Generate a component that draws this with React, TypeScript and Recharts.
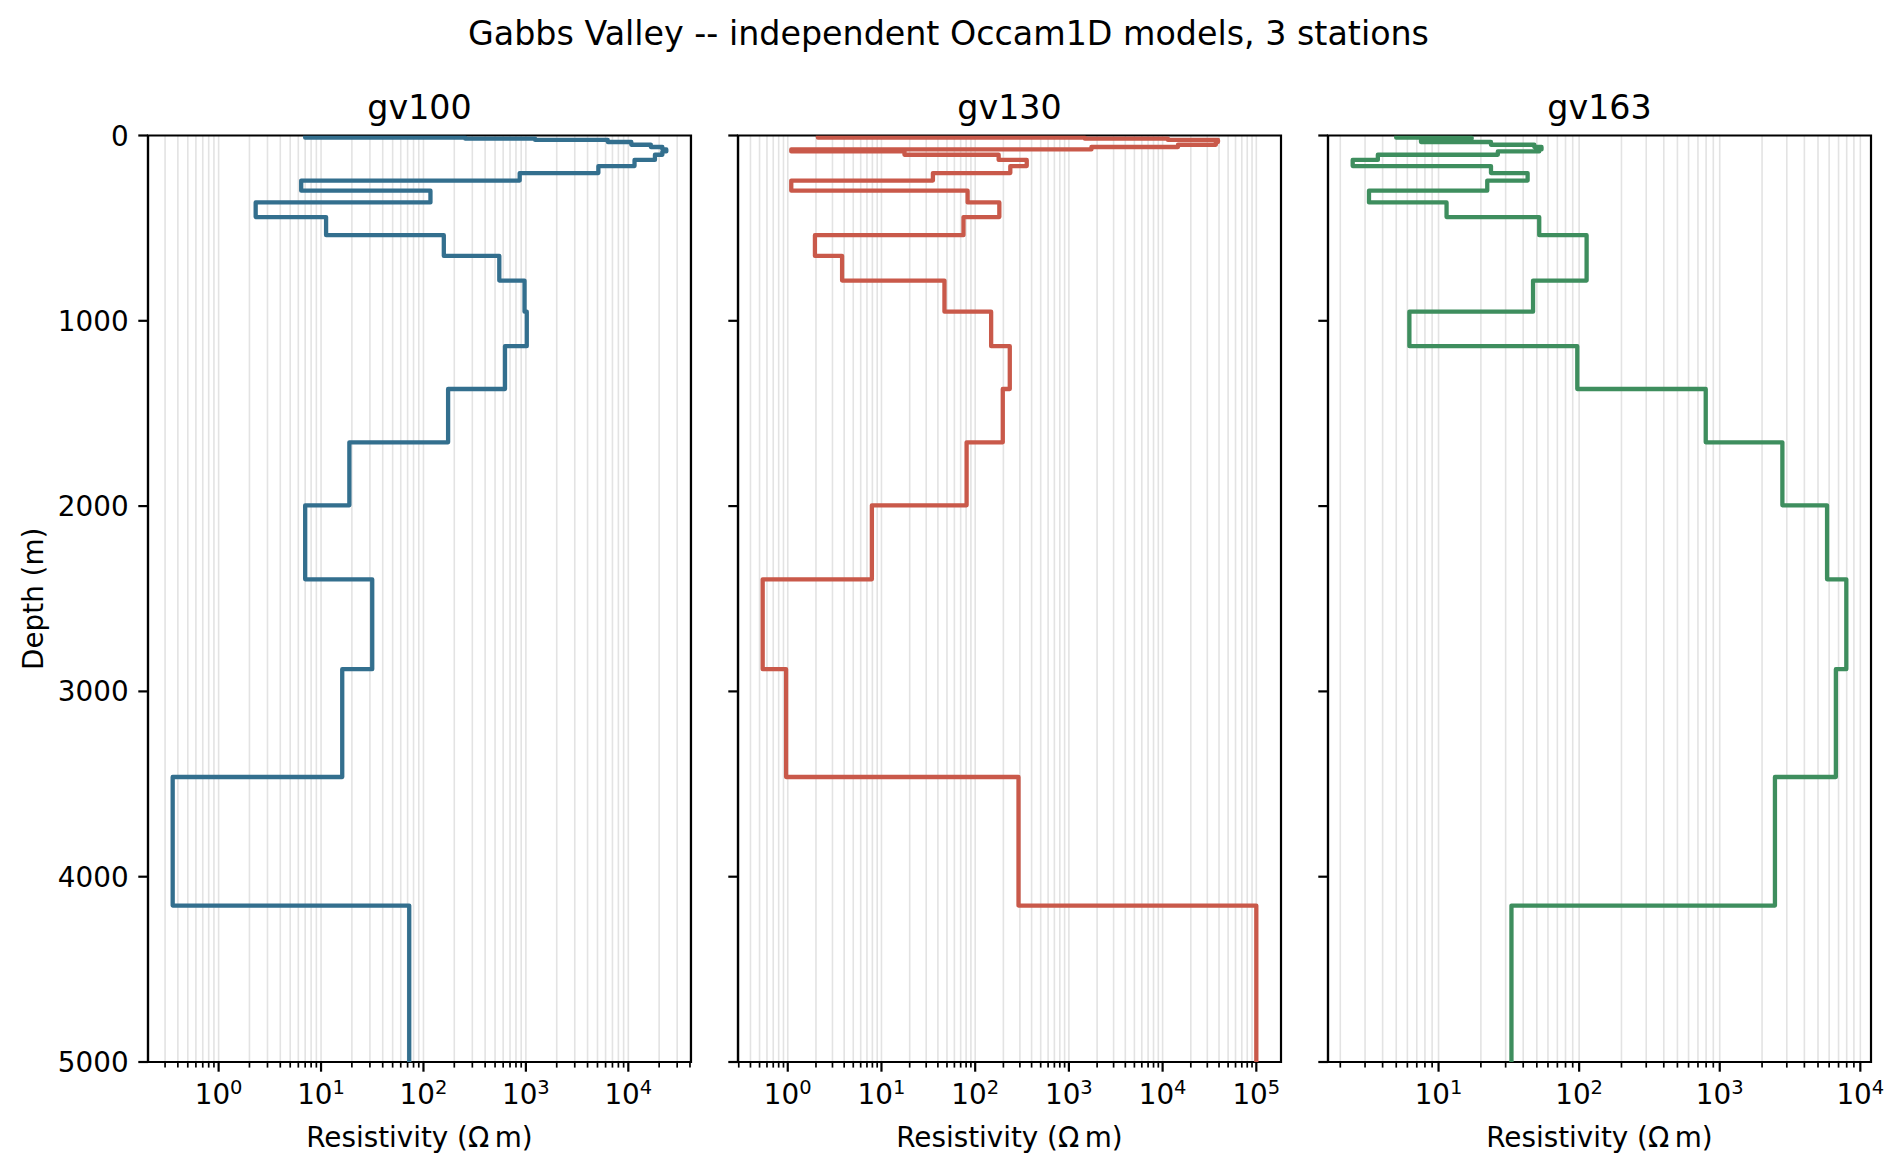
import React from "react";
import {
  CartesianGrid,
  ReferenceArea,
  Scatter,
  ScatterChart,
  XAxis,
  YAxis,
} from "recharts";

// layer boundaries of the shared Occam1D mesh (m); layer i spans [i, i+1]
const boundaries = [
  0, 12, 17, 24, 35, 50, 62, 75, 86, 104, 132, 165, 203, 243, 298, 361, 440,
  538, 650, 783, 951, 1137, 1368, 1656, 1996, 2395, 2880, 3462, 4156, 5000,
];

// resistivity per layer (ohm m)
const rhoGv100 = [
  7.0, 256, 1230, 6300, 10700, 16600, 21500, 23500, 21500, 18200, 11500, 5100,
  870, 6.4, 117, 2.3, 11.2, 158, 550, 970, 1020, 625, 174, 18.9, 7.0, 31.6,
  16.1, 0.356, 72.6,
];
const rhoGv130 = [
  2.1, 1480, 11400, 39000, 37000, 14600, 1740, 1.09, 17.6, 178, 355, 237, 35.4,
  1.09, 83, 181, 75, 1.95, 3.8, 47, 148, 234, 197, 81, 7.9, 0.54, 0.96, 290,
  100000,
];
const rhoGv163 = [
  5.0, 17.2, 7.6, 7.5, 23.6, 48, 54, 52, 26.4, 3.7, 2.45, 23.6, 43, 22.2, 3.2,
  11.4, 52, 113, 113, 47, 6.2, 97, 795, 2790, 5800, 7950, 6700, 2470, 33,
];

const stationNames = ["gv100", "gv130", "gv163"];
const stationColors = ["#336f8e", "#c9594a", "#3e8e5e"];
const stationRho = [rhoGv100, rhoGv130, rhoGv163];
// exponents of the labelled decade ticks in each panel
const decadeExponents = [
  [0, 1, 2, 3, 4],
  [0, 1, 2, 3, 4, 5],
  [1, 2, 3, 4],
];
const depthTicks = [0, 1000, 2000, 3000, 4000, 5000];

const FIG_W = 1897;
const FIG_H = 1174;
const PLOT_TOP = 135.5;
const PLOT_BOTTOM = 1062;
const PANEL_LEFT = [148, 738, 1328];
const PANEL_W = 543;
const RIGHT_PAD = 24;
const X_AXIS_H = 60;
const FONT = "DejaVu Sans";
const TICK_FS = 27.8;
const TITLE_FS = 33.3;

const stepProfile = (rho: number[]) =>
  rho.flatMap((r, i) => [
    { rho: r, depth: boundaries[i] },
    { rho: r, depth: boundaries[i + 1] },
  ]);

// matplotlib-like 5% margin in log space
const logDomain = (rho: number[]): [number, number] => {
  const lo = Math.log10(Math.min(...rho));
  const hi = Math.log10(Math.max(...rho));
  const pad = (hi - lo) * 0.05;
  return [10 ** (lo - pad), 10 ** (hi + pad)];
};

const minorTicks = ([d0, d1]: [number, number]) => {
  const out: number[] = [];
  for (let e = Math.floor(Math.log10(d0)); e <= Math.ceil(Math.log10(d1)); e++) {
    for (let m = 2; m <= 9; m++) {
      const v = m * 10 ** e;
      if (v >= d0 && v <= d1) out.push(v);
    }
  }
  return out;
};

const noDot = () => <g />;

const XTick = (props: any) => {
  const { x, y, payload, labels } = props;
  const exp = labels.get(payload.value);
  const major = exp !== undefined;
  return (
    <g>
      <line
        x1={x}
        x2={x}
        y1={y}
        y2={y + (major ? 9.7 : 5.6)}
        stroke="#000"
        strokeWidth={major ? 2.2 : 1.7}
      />
      {major && (
        <text
          x={x}
          y={y + 42}
          textAnchor="middle"
          fontSize={TICK_FS}
          fontFamily={FONT}
          fill="#000"
        >
          <tspan>10</tspan>
          <tspan dy={-10} fontSize={19.5}>
            {exp}
          </tspan>
        </text>
      )}
    </g>
  );
};

const YTick = (props: any) => {
  const { x, y, payload, showLabel } = props;
  return (
    <g>
      <line x1={x - 9.7} x2={x} y1={y} y2={y} stroke="#000" strokeWidth={2.2} />
      {showLabel && (
        <text
          x={x - 19.4}
          y={y + 10}
          textAnchor="end"
          fontSize={TICK_FS}
          fontFamily={FONT}
          fill="#000"
        >
          {payload.value}
        </text>
      )}
    </g>
  );
};

const Panel: React.FC<{ index: number }> = ({ index }) => {
  const rho = stationRho[index];
  const domain = logDomain(rho);
  const labels = new Map<number, number>(
    decadeExponents[index].map((e) => [10 ** e, e]),
  );
  const ticks = [...labels.keys(), ...minorTicks(domain)].sort((a, b) => a - b);
  const axisW = index === 0 ? 148 : 30;
  const color = stationColors[index];

  return (
    <div style={{ position: "absolute", left: PANEL_LEFT[index] - axisW, top: 0 }}>
      <ScatterChart
        width={axisW + PANEL_W + RIGHT_PAD}
        height={FIG_H}
        margin={{
          top: PLOT_TOP,
          right: RIGHT_PAD,
          bottom: FIG_H - PLOT_BOTTOM - X_AXIS_H,
          left: 0,
        }}
      >
        <CartesianGrid horizontal={false} stroke="#e3e3e3" strokeWidth={1.6} />
        <XAxis
          type="number"
          dataKey="rho"
          scale="log"
          domain={domain}
          allowDataOverflow
          ticks={ticks}
          interval={0}
          height={X_AXIS_H}
          tickSize={0}
          tickMargin={0}
          tickLine={false}
          axisLine={{ stroke: "#000", strokeWidth: 2.2 }}
          tick={(p: any) => <XTick {...p} labels={labels} />}
        />
        <YAxis
          type="number"
          dataKey="depth"
          domain={[0, 5000]}
          reversed
          allowDataOverflow
          ticks={depthTicks}
          interval={0}
          width={axisW}
          tickSize={0}
          tickMargin={0}
          tickLine={false}
          axisLine={{ stroke: "#000", strokeWidth: 2.2 }}
          tick={(p: any) => <YTick {...p} showLabel={index === 0} />}
        />
        <Scatter
          data={stepProfile(rho)}
          fill={color}
          line={{
            stroke: color,
            strokeWidth: 4.3,
            strokeLinejoin: "round",
          }}
          shape={noDot}
          isAnimationActive={false}
        />
        <ReferenceArea
          x1={domain[0]}
          x2={domain[1]}
          y1={0}
          y2={5000}
          fill="none"
          stroke="#000"
          strokeWidth={2.2}
        />
      </ScatterChart>
    </div>
  );
};

export default function App() {
  return (
    <div
      style={{
        position: "absolute",
        left: 0,
        top: 0,
        width: FIG_W,
        height: FIG_H,
        background: "#fff",
        overflow: "hidden",
      }}
    >
      {stationNames.map((_, i) => (
        <Panel key={i} index={i} />
      ))}
      <svg
        width={FIG_W}
        height={FIG_H}
        style={{ position: "absolute", left: 0, top: 0, pointerEvents: "none" }}
        fontFamily={FONT}
      >
        <text x={948.5} y={45} textAnchor="middle" fontSize={TITLE_FS} fill="#000">
          Gabbs Valley -- independent Occam1D models, 3 stations
        </text>
        {stationNames.map((name, i) => (
          <g key={name}>
            <text
              x={PANEL_LEFT[i] + PANEL_W / 2}
              y={119}
              textAnchor="middle"
              fontSize={TITLE_FS}
              fill="#000"
            >
              {name}
            </text>
            <text
              x={PANEL_LEFT[i] + PANEL_W / 2}
              y={1147}
              textAnchor="middle"
              fontSize={TICK_FS}
              fill="#000"
            >
              Resistivity (Ω{"\u2009"}m)
            </text>
          </g>
        ))}
        <text
          x={33}
          y={(PLOT_TOP + PLOT_BOTTOM) / 2}
          textAnchor="middle"
          dominantBaseline="central"
          fontSize={TICK_FS}
          fill="#000"
          transform={`rotate(-90 33 ${(PLOT_TOP + PLOT_BOTTOM) / 2})`}
        >
          Depth (m)
        </text>
      </svg>
    </div>
  );
}
